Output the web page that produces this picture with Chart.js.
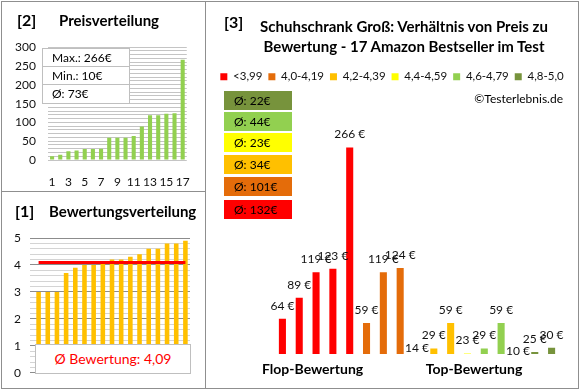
<!DOCTYPE html>
<html lang="de">
<head>
<meta charset="utf-8">
<title>Schuhschrank Groß</title>
<script src="https://cdn.jsdelivr.net/npm/chart.js@4.4.1/dist/chart.umd.min.js"></script>
<style>
  body { margin: 0; background: #fff; }
  #page { position: relative; width: 580px; height: 390px; overflow: hidden; background: #fff; font-family: Lato, sans-serif; color: #000; }
  .frame { position: absolute; box-sizing: border-box; border: 1px solid #8f8f8f; }
  canvas { position: absolute; }
  .txt { position: absolute; white-space: nowrap; line-height: 20px; height: 20px; }
  .bold { font-weight: bold; }
  .info { position: absolute; box-sizing: border-box; background: #fff; border: 1px solid #bfbfbf; font-size: 12px; z-index: 6; }
  .info div { box-sizing: border-box; height: 18px; line-height: 18px; padding-left: 9px; border-bottom: 1px solid #bfbfbf; }
  .info div:last-child { border-bottom: none; }
  .avg { position: absolute; box-sizing: border-box; width: 68px; height: 19px; line-height: 19px; padding-left: 10px; font-size: 12px; }
  .ylab { position: absolute; left: 0; height: 16px; line-height: 16px; text-align: right; font-size: 12px; color: #111; z-index: 5; }
</style>
</head>
<body>
<div id="page">
  <div class="frame" style="left:1px;top:1px;width:205px;height:388px"></div>
  <div class="frame" style="left:1px;top:191px;width:205px;height:1px;border-width:1px 0 0 0"></div>
  <div class="frame" style="left:205px;top:1px;width:374px;height:388px"></div>

  <canvas id="price-chart" width="205" height="191" style="left:0;top:0"></canvas>
  <canvas id="rating-chart" width="205" height="198" style="left:0;top:191px"></canvas>
  <canvas id="group-chart" width="372" height="324" style="left:206px;top:65px"></canvas>

  <div class="txt bold" style="left:17px;top:10px;font-size:16px">[2]</div>
  <div class="txt bold" style="left:59px;top:10px;font-size:15px">Preisverteilung</div>
  <div id="price-axis"></div>
  <div class="info" id="price-info" style="left:42px;top:48px;width:88px;height:56px"></div>

  <div class="txt bold" style="left:15px;top:201px;font-size:16px">[1]</div>
  <div class="txt bold" style="left:49px;top:201px;font-size:15px">Bewertungsverteilung</div>
  <div class="info" id="rating-info" style="left:35px;top:344px;width:156px;height:30px;text-align:center;line-height:28px;font-size:14px;color:#ff0000"></div>

  <div class="txt bold" style="left:224px;top:12px;font-size:16px">[3]</div>
  <div class="txt bold" style="left:254px;top:16px;width:300px;text-align:center;font-size:15px">Schuhschrank Groß: Verhältnis von Preis zu</div>
  <div class="txt bold" style="left:254px;top:36px;width:300px;text-align:center;font-size:15px">Bewertung - 17 Amazon Bestseller im Test</div>
  <div class="txt" style="left:463px;top:89px;width:100px;text-align:right;font-size:12px">©Testerlebnis.de</div>
  <div id="avg-boxes"></div>
  <div class="txt bold" style="left:262px;top:359px;width:100px;text-align:center;font-size:14px">Flop-Bewertung</div>
  <div class="txt bold" style="left:424px;top:359px;width:100px;text-align:center;font-size:14px">Top-Bewertung</div>
</div>

<script>
// data
const ranks = ['1', '2', '3', '4', '5', '6', '7', '8', '9', '10', '11', '12', '13', '14', '15', '16', '17'];
const prices = [10, 14, 23, 25, 29, 29, 30, 59, 59, 59, 64, 89, 119, 119, 123, 124, 266];
const ratings = [3.0, 3.0, 3.0, 3.7, 3.9, 4.0, 4.0, 4.1, 4.2, 4.2, 4.3, 4.4, 4.6, 4.6, 4.8, 4.8, 4.9];
const avgRating = 4.09;
const priceTicks = [0, 50, 100, 150, 200, 250, 300];
const ratingTicks = [0, 1, 2, 3, 4, 5];

const groupNames = ['<3,99', '4,0-4,19', '4,2-4,39', '4,4-4,59', '4,6-4,79', '4,8-5,0'];
const groupPrices = [
    [64, 89, 119, 123, 266],
    [59, 119, 124],
    [14, 29, 59],
    [23],
    [29, 59],
    [10, 25, 30]
];
const groupColors = ['#ff0000', '#e46c0a', '#ffc000', '#ffff00', '#92d050', '#77933c'];

document.addEventListener('DOMContentLoaded', () => {
    Chart.defaults.font.family = 'Lato';
    Chart.defaults.font.size = 12;
    Chart.defaults.color = '#111';

    const euro = v => Math.round(v) + '€';
    const mean = list => list.reduce((a, b) => a + b, 0) / list.length;

    // info boxes
    document.getElementById('price-info').innerHTML =
        `<div>Max.: ${euro(Math.max(...prices))}</div><div>Min.: ${euro(Math.min(...prices))}</div><div>Ø: ${euro(mean(prices))}</div>`;
    document.getElementById('rating-info').textContent = 'Ø Bewertung: ' + avgRating.toFixed(2).replace('.', ',');

    const avgBoxes = document.getElementById('avg-boxes');
    const boxTops = [91, 112, 133, 155, 177, 200];
    groupPrices.slice().reverse().forEach((list, i) => {
        const g = groupPrices.length - 1 - i;
        const div = document.createElement('div');
        div.className = 'avg';
        div.style.left = '224px';
        div.style.top = boxTops[i] + 'px';
        div.style.background = groupColors[g];
        div.textContent = 'Ø: ' + euro(mean(list));
        avgBoxes.appendChild(div);
    });

    // [2] Preisverteilung
    const priceChart = new Chart(document.getElementById('price-chart'), {
        type: 'bar',
        data: {
            labels: ranks,
            datasets: [{ data: prices, backgroundColor: '#92d050', barPercentage: 0.5, categoryPercentage: 1 }]
        },
        options: {
            responsive: false,
            animation: false,
            layout: { padding: { left: 0, right: 12, top: 47, bottom: 0 } },
            plugins: { legend: { display: false }, tooltip: { enabled: false } },
            scales: {
                x: {
                    afterFit: s => { s.height = 31; },
                    grid: { display: false, drawTicks: false },
                    border: { display: false },
                    ticks: { autoSkip: false, maxRotation: 0, padding: 15, callback: (v, i) => (i % 2 === 0 ? ranks[i] : '') }
                },
                y: {
                    min: priceTicks[0],
                    max: priceTicks[priceTicks.length - 1],
                    afterFit: s => { s.width = 48; },
                    border: { display: false },
                    grid: { color: '#c4c4c4', drawTicks: false },
                    ticks: { display: false, stepSize: 10 }
                }
            }
        }
    });

    // y labels of [2], placed with the chart's own y scale
    const priceAxis = document.getElementById('price-axis');
    const yScale = priceChart.scales.y;
    priceTicks.forEach(v => {
        const lab = document.createElement('div');
        lab.className = 'ylab';
        lab.style.width = (priceChart.chartArea.left - 12) + 'px';
        lab.style.top = (yScale.getPixelForValue(v) - 8) + 'px';
        lab.textContent = v;
        priceAxis.appendChild(lab);
    });

    // [1] Bewertungsverteilung
    new Chart(document.getElementById('rating-chart'), {
        type: 'bar',
        data: {
            labels: ranks,
            datasets: [
                { type: 'line', data: ranks.map(() => avgRating), borderColor: '#ff0000', borderWidth: 3, pointRadius: 0, order: 0 },
                { data: ratings, backgroundColor: '#ffc000', barPercentage: 0.5, categoryPercentage: 1, order: 1 }
            ]
        },
        options: {
            responsive: false,
            animation: false,
            layout: { padding: { left: 0, right: 15, top: 47, bottom: 16 } },
            plugins: { legend: { display: false }, tooltip: { enabled: false } },
            scales: {
                x: { display: false },
                y: {
                    min: 0,
                    max: 5,
                    afterFit: s => { s.width = 34; },
                    border: { display: false },
                    grid: {
                        tickLength: 4,
                        color: ctx => (Math.abs(ctx.tick.value - Math.round(ctx.tick.value)) < 1e-6 ? '#8c8c8c' : '#d4d4d4')
                    },
                    ticks: {
                        autoSkip: false,
                        stepSize: 0.2,
                        padding: 9,
                        callback: v => {
                            const r = Math.round(v);
                            return Math.abs(v - r) < 1e-6 && ratingTicks.includes(r) ? r : '';
                        }
                    }
                }
            }
        }
    });

    // [3] Preis nach Bewertungsgruppe
    const slotCount = groupPrices.reduce((n, list) => n + list.length, 0);
    let slot = 0;
    const groupDatasets = groupPrices.map((list, g) => {
        const data = new Array(slotCount).fill(null);
        list.forEach(v => { data[slot++] = v; });
        return {
            label: groupNames[g],
            data: data,
            backgroundColor: groupColors[g],
            grouped: false,
            barPercentage: 0.42,
            categoryPercentage: 1
        };
    });

    const priceLabels = {
        id: 'priceLabels',
        afterDatasetsDraw(chart) {
            const ctx = chart.ctx;
            ctx.save();
            ctx.font = '12px Lato';
            ctx.fillStyle = '#111';
            ctx.textAlign = 'center';
            ctx.textBaseline = 'middle';
            chart.data.datasets.forEach((ds, i) => {
                chart.getDatasetMeta(i).data.forEach((bar, j) => {
                    const v = ds.data[j];
                    if (v === null) return;
                    ctx.fillText(v + ' €', bar.x, bar.y - 13);
                });
            });
            ctx.restore();
        }
    };

    const hiddenAxis = width => ({
        afterFit: s => { s.width = width; },
        ticks: { display: false },
        grid: { display: false },
        border: { display: false }
    });

    new Chart(document.getElementById('group-chart'), {
        type: 'bar',
        data: { labels: new Array(slotCount).fill(''), datasets: groupDatasets },
        options: {
            responsive: false,
            animation: false,
            layout: { padding: { left: 0, right: 0, top: 0, bottom: 35 } },
            plugins: {
                legend: {
                    position: 'top',
                    labels: { boxWidth: 7, boxHeight: 7, padding: 6, color: '#111', font: { size: 11.5 } }
                },
                tooltip: { enabled: false }
            },
            scales: {
                x: { display: false },
                y: Object.assign({ min: 22.5, max: 331 }, hiddenAxis(68)),
                y2: Object.assign({ position: 'right' }, hiddenAxis(18))
            }
        },
        plugins: [priceLabels]
    });
});
</script>
</body>
</html>
